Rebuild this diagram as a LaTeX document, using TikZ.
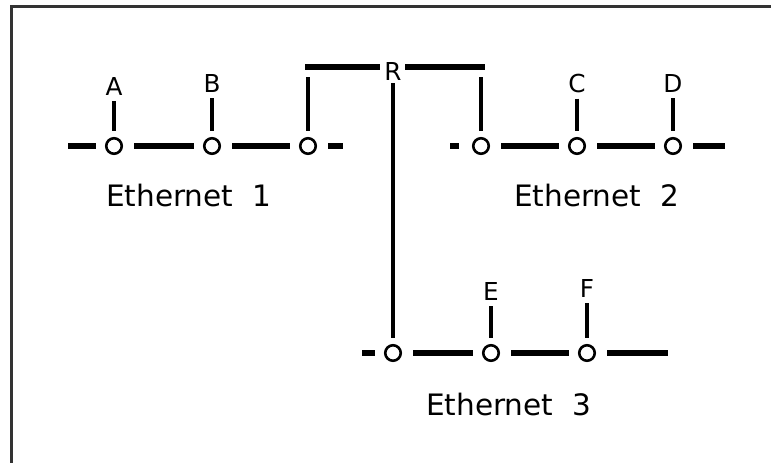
\documentclass[tikz,border=0pt]{standalone}
\usepackage{fontspec}
\setmainfont{DejaVu Sans}
\usepackage{tikz}
\usetikzlibrary{positioning, calc}

\begin{document}
\begin{tikzpicture}[x=1pt,y=-1pt,
    tap/.style={circle,draw,line width=2.6pt,minimum size=15.5pt,inner sep=0pt},
    bus/.style={line width=5.5pt,shorten <=11pt,shorten >=9pt},
    drop/.style={line width=3.4pt,shorten <=6pt,shorten >=6pt},
    host/.style={font=\fontsize{24.7}{26}\selectfont,inner sep=0pt,anchor=base},
    lan/.style={font=\fontsize{29.5}{32}\selectfont,inner sep=0pt,anchor=base west}]
  \useasboundingbox (0,0) rectangle (771,463);
  \draw[line width=2.5pt,black!80] (11.5,463) -- (11.5,6.5) -- (771,6.5);

  % Ethernet 1
  \coordinate (e1l) at (68,146);
  \node[tap] (e1a) at (114,146) {};
  \node[tap] (e1b) at (212,146) {};
  \node[tap] (e1r) at (308,146) {};
  \coordinate (e1rt) at (343,146);
  \draw[bus,shorten <=0pt] (e1l) -- (e1a);
  \draw[bus] (e1a) -- (e1b);
  \draw[bus] (e1b) -- (e1r);
  \draw[bus,shorten >=0pt] (e1r) -- (e1rt);
  \node[host] (A) at (114,95) {A};
  \node[host] (B) at (212,92) {B};
  \draw[drop] (A) -- (e1a);
  \draw[drop] (B) -- (e1b);
  \node[lan] (eth1) at (106,206.5) {Ethernet~~1};

  % Ethernet 2
  \coordinate (e2l) at (450,146);
  \node[tap] (e2r) at (481,146) {};
  \node[tap] (e2c) at (577,146) {};
  \node[tap] (e2d) at (673,146) {};
  \coordinate (e2rt) at (725,146);
  \draw[bus,shorten <=0pt,shorten >=13pt] (e2l) -- (e2r);
  \draw[bus] (e2r) -- (e2c);
  \draw[bus] (e2c) -- (e2d);
  \draw[bus,shorten >=0pt] (e2d) -- (e2rt);
  \node[host] (C) at (577,92) {C};
  \node[host] (D) at (673,92) {D};
  \draw[drop] (C) -- (e2c);
  \draw[drop] (D) -- (e2d);
  \node[lan] (eth2) at (514,206.5) {Ethernet~~2};

  % Ethernet 3
  \coordinate (e3l) at (362,353);
  \node[tap] (e3r) at (393,353) {};
  \node[tap] (e3e) at (491,353) {};
  \node[tap] (e3f) at (587,353) {};
  \coordinate (e3rt) at (668,353);
  \draw[bus,shorten <=0pt] (e3l) -- (e3r);
  \draw[bus] (e3r) -- (e3e);
  \draw[bus] (e3e) -- (e3f);
  \draw[bus,shorten >=0pt] (e3f) -- (e3rt);
  \node[host] (E) at (491,300) {E};
  \node[host] (F) at (587,297) {F};
  \draw[drop] (E) -- (e3e);
  \draw[drop] (F) -- (e3f);
  \node[lan] (eth3) at (426,415.5) {Ethernet~~3};

  % router
  \node[host] (R) at (393,80) {R};
  \coordinate (rl) at (305,67);
  \coordinate (rr) at (485,67);
  \coordinate (rdl) at (308,77);
  \coordinate (rdr) at (481,77);
  \draw[bus,shorten <=0pt,shorten >=4.5pt] (rl) -- (rl -| R.west);
  \draw[bus,shorten <=3.5pt,shorten >=0pt] (R.east |- rr) -- (rr);
  \draw[drop,shorten <=0pt] (rdl) -- (e1r);
  \draw[drop,shorten <=0pt] (rdr) -- (e2r);
  \draw[drop,shorten <=3pt] (R) -- (e3r);
\end{tikzpicture}
\end{document}
